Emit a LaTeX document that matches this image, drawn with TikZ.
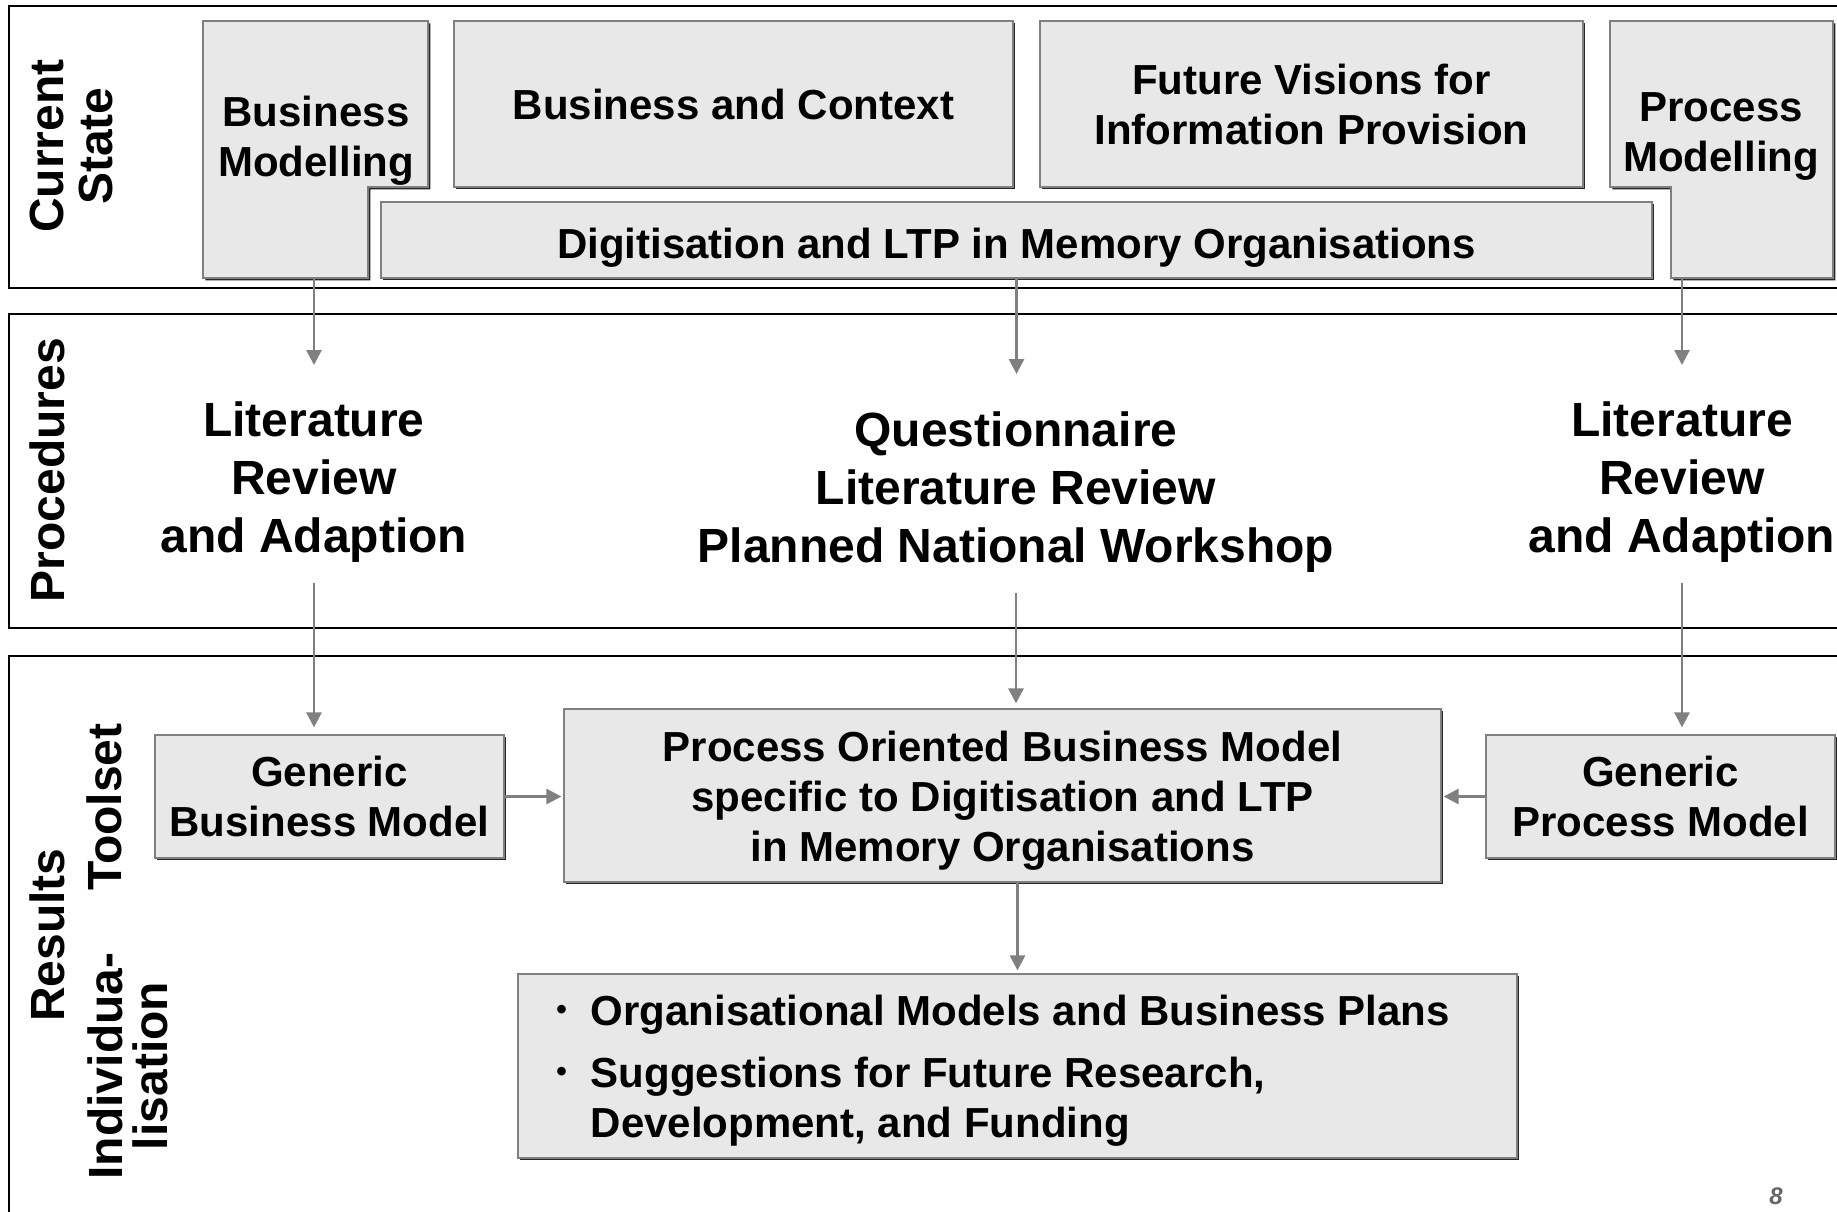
\documentclass[tikz,border=0pt]{standalone}
\usepackage{fontspec}
\setmainfont{Liberation Sans}
\usetikzlibrary{arrows.meta,shadows}

\definecolor{boxfill}{HTML}{E8E8E8}
\definecolor{flowgray}{HTML}{808080}

\newcommand{\bul}{\raisebox{0.28ex}{\fontsize{15}{15}\selectfont\textbullet}}

\tikzset{
  band/.style={draw=black, line width=1pt},
  block/.style={draw=flowgray, fill=boxfill, line width=0.6pt,
    drop shadow={shadow xshift=1.2pt, shadow yshift=-1.2pt, opacity=1, fill=black!85}},
  boxtext/.style={align=center, inner sep=0pt, font=\fontsize{21}{25}\selectfont\bfseries},
  steptext/.style={align=center, inner sep=0pt, font=\fontsize{24}{29}\selectfont\bfseries},
  rowlabel/.style={rotate=90, align=center, inner sep=0pt, font=\fontsize{24}{24.5}\selectfont\bfseries},
  flow/.style={draw=flowgray, line width=1.4pt, -{Triangle[length=7.5pt, width=7.5pt]}}
}

\begin{document}
\begin{tikzpicture}[x=0.5pt, y=-0.5pt]

\path[use as bounding box, clip] (0,0) rectangle (1837,1211);

% bands
\draw[band] (9,6) rectangle (1850,288);
\draw[band] (9,314) rectangle (1850,628);
\draw[band] (9,656) rectangle (1850,1230);

% row labels
\node[rowlabel] (current) at (71,146) {Current\\State};
\node[rowlabel] (proc) at (47,470) {Procedures};
\node[rowlabel] (results) at (47,935) {Results};
\node[rowlabel] (toolset) at (104,807) {Toolset};
\node[rowlabel, font=\fontsize{24}{22.5}\selectfont\bfseries] (indiv) at (128,1066) {Individua-\\lisation};

% current state
\path[block] (203,21) -- (428,21) -- (428,187) -- (368,187) -- (368,278) -- (203,278) -- cycle;
\node[boxtext] (bizmod) at (316,141) {Business\\Modelling};
\coordinate (bizmod-foot) at (314,278);

\node[block, boxtext, minimum width=279.5pt, minimum height=83pt] (context) at (733.5,104)
  {Business and Context};
\node[block, boxtext, minimum width=271.5pt, minimum height=83pt] (visions) at (1311.5,104)
  {Future Visions for\\Information Provision};

\path[block] (1610,21) -- (1833,21) -- (1833,278) -- (1671,278) -- (1671,187) -- (1610,187) -- cycle;
\node[boxtext] (procmod) at (1721,136) {Process\\Modelling};
\coordinate (procmod-foot) at (1682,278);

\node[block, boxtext, minimum width=635.5pt, minimum height=38pt, text height=18pt, text depth=0pt]
  (digit) at (1016.5,240) {Digitisation and LTP in Memory Organisations};

% procedures
\node[steptext] (litleft) at (314,482) {Literature\\Review\\and Adaption};
\node[steptext] (quest) at (1016,492) {Questionnaire\\Literature Review\\Planned National Workshop};
\node[steptext] (litright) at (1682,482) {Literature\\Review\\and Adaption};

\coordinate (litleft-in) at (314,365);
\coordinate (quest-in) at (1016.5,374);
\coordinate (litright-in) at (1682,365);

% results
\node[block, boxtext, minimum width=174.5pt, minimum height=61.5pt] (gbm) at (329.5,796.5)
  {Generic\\Business Model};
\node[block, boxtext, minimum width=438.5pt, minimum height=86.5pt] (pobm) at (1002.5,795.5)
  {\rule{0pt}{20.5pt}Process Oriented Business Model\\specific to Digitisation and LTP\\in Memory Organisations};
\node[block, boxtext, minimum width=174.5pt, minimum height=61.5pt] (gpm) at (1660.5,796.5)
  {Generic\\Process Model};

\node[block, minimum width=499.5pt, minimum height=92pt] (outcomes) at (1017.5,1066) {};
\node[boxtext, align=left, anchor=west] (outcomes-list) at (556,1071.5)
  {\begin{tabular}{@{}c@{\hspace{12pt}}l@{}}
   \bul & Organisational Models and Business Plans\\[6pt]
   \bul & Suggestions for Future Research,\\
        & Development, and Funding
   \end{tabular}};

% arrows
\draw[flow] (bizmod-foot) -- (litleft-in);
\draw[flow] (digit.south) -- (quest-in);
\draw[flow] (procmod-foot) -- (litright-in);

\draw[flow, shorten <=10pt, shorten >=3.5pt] (litleft.south) -- (litleft.south |- gbm.north);
\draw[flow, shorten <=10pt, shorten >=2.5pt] (quest.south) -- (quest.south |- pobm.north);
\draw[flow, shorten <=10pt, shorten >=3.5pt] (litright.south) -- (litright.south |- gpm.north);

\draw[flow, shorten >=1pt] (gbm.east) -- (gbm.east -| pobm.west);
\draw[flow, shorten >=1pt] (gpm.west) -- (gpm.west -| pobm.east);
\draw[flow, shorten >=1.5pt] (outcomes.north |- pobm.south) -- (outcomes.north);

% page number
\node[font=\fontsize{12}{12}\selectfont\bfseries\itshape, text=black!60] (pageno) at (1776,1196) {8};

\end{tikzpicture}
\end{document}
